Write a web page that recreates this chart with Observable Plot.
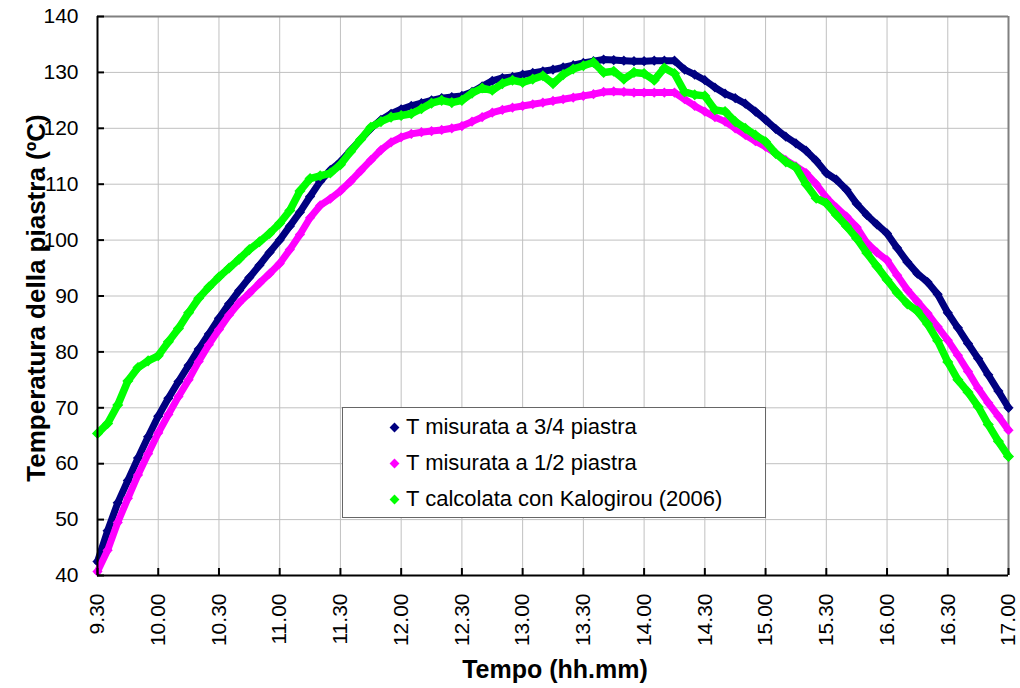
<!DOCTYPE html>
<html>
<head>
<meta charset="utf-8">
<script src="https://cdn.jsdelivr.net/npm/d3@7"></script>
<script src="https://cdn.jsdelivr.net/npm/@observablehq/plot@0.6"></script>
<style>
  body { margin: 0; background: #fff; }
  #wrap { position: relative; width: 1020px; height: 688px; font-family: "Liberation Sans", Arial, sans-serif; color: #000; }
  #wrap svg { position: absolute; left: 0; top: 0; }
  .ytitle { position: absolute; left: 36px; top: 298px; transform: translate(-50%, -50%) rotate(-90deg); font-weight: bold; font-size: 26px; line-height: 1; white-space: nowrap; }
  .xtitle { position: absolute; left: 555px; top: 669px; transform: translate(-50%, -50%); font-weight: bold; font-size: 25px; line-height: 1; white-space: nowrap; }
  .legend { position: absolute; left: 342px; top: 407px; width: 422px; height: 109px; border: 1.5px solid #666; background: #fff; }
  .entry { position: absolute; left: 0; height: 24px; line-height: 24px; font-size: 22px; white-space: nowrap; }
  .entry .mk { position: absolute; left: 48px; top: 9px; width: 7px; height: 7px; transform: rotate(45deg); }
  .entry .lb { position: absolute; left: 63px; top: 0; }
</style>
</head>
<body>
<div id="wrap"></div>
<script>
// ---- data ----
const minutes = [0,5,10,15,20,25,30,35,40,45,50,55,60,65,70,75,80,85,90,95,
  100,105,110,115,120,125,130,135,140,145,150,155,160,165,170,175,180,185,190,195,
  200,205,210,215,220,225,230,235,240,245,250,255,260,265,270,275,280,285,290,295,
  300,305,310,315,320,325,330,335,340,345,350,355,360,365,370,375,380,385,390,395,
  400,405,410,415,420,425,430,435,440,445,450];
const tickMinutes = [0,30,60,90,120,150,180,210,240,270,300,330,360,390,420,450];
const tickLabels = ["9.30","10.00","10.30","11.00","11.30","12.00","12.30","13.00","13.30","14.00","14.30","15.00","15.30","16.00","16.30","17.00"];
const yTicks = [40,50,60,70,80,90,100,110,120,130,140];
const seriesNames = ["T misurata a 3/4 piastra","T misurata a 1/2 piastra","T calcolata con Kalogirou (2006)"];
const seriesColors = ["#000080","#FF00FF","#00FF00"];

const t34 = [42.5,48,53,57,61,64.8,68.5,71.7,74.7,77.6,
  80.5,83.2,86,88.6,91,93.3,95.5,97.8,100,102.5,
  105,107.8,110.5,112.5,114,116,118,120,121.5,122.6,
  123.4,124,124.5,125,125.4,125.6,125.8,126.5,127.5,128.5,
  129,129.2,129.6,129.9,130.2,130.5,130.9,131.3,131.7,132,
  132.3,132.2,132.1,132,132,132.1,132.1,132.1,130.5,129.6,
  128.6,127.3,126.2,125.4,124.4,123,121.5,119.9,118.5,117.3,
  116,114.2,112,110.8,109,106.5,104.5,102.8,101.2,98.6,
  96.1,94,92.5,90.3,87,84.3,81.5,78.8,75.9,73,
  70];
const t12 = [40.7,44.5,49.5,53.8,58,61.8,65.5,68.8,72,75,
  78.3,81.3,84,86.6,88.8,90.5,92.3,94,95.8,98.3,
  101,104,106.2,107.4,108.8,110.5,112.4,114.3,116.1,117.5,
  118.4,119,119.3,119.5,119.7,120,120.4,121.2,122,122.8,
  123.3,123.7,124,124.3,124.6,124.9,125.2,125.5,125.8,126.1,
  126.5,126.6,126.5,126.4,126.4,126.4,126.4,126.4,125.2,124,
  123,122,121.2,120,118.8,117.7,116.7,115.5,114.3,113.2,
  112,110,107.6,105.8,104.2,102.3,99.5,97.8,96.4,93.7,
  91.1,89,86.9,84.5,82.1,79.4,76.5,73.5,70.9,68.5,
  66];
const tKal = [65.4,67.2,70.5,74.8,77.2,78.4,79.3,81.8,84.2,87,
  89.6,91.6,93.4,95,96.6,98.3,99.7,101.2,103,105.3,
  108.8,111,111.5,112,113.5,115.8,118,120.2,121.2,122,
  122.3,122.6,123.5,124.5,125,124.6,125,126.3,127.2,126.8,
  128,128.6,128.2,128.8,129.4,128,129.6,130.6,131.2,131.8,
  130,130.2,128.8,130,129.8,128.6,130.8,129.8,126.5,126,
  125.8,123.3,123,121.2,120,118.8,117.6,115.5,114,113,
  110,107.5,106.6,104.5,102.5,100.3,97.7,95.3,92.9,90.6,
  88.6,87.3,85,82,78.2,75,72.8,70.2,67,64,
  61.3];

// ---- build ----
const seriesValues = [t34, t12, tKal];
const rows = seriesValues.map((vals, k) => minutes.map((m, i) => ({m, v: vals[i], s: seriesNames[k]})));
const dotR = [4.6, 4.6, 5.0];
const lineW = [7, 7, 7.5];

const seriesMarks = rows.flatMap((data, k) => [
  Plot.line(data, {x: "m", y: "v", stroke: seriesColors[k], strokeWidth: lineW[k]}),
  Plot.dot(data, {x: "m", y: "v", symbol: "diamond2", r: dotR[k], fill: seriesColors[k], stroke: "none"})
]);

const chart = Plot.plot({
  width: 1020,
  height: 688,
  marginLeft: 97,
  marginRight: 12,
  marginTop: 16,
  marginBottom: 113,
  style: {fontFamily: "'Liberation Sans', Arial, sans-serif", fontSize: "21px", color: "#000", background: "transparent"},
  x: {domain: [0, 450], label: null},
  y: {domain: [40, 140], label: null},
  marks: [
    Plot.gridY(yTicks, {stroke: "#c0c0c0", strokeOpacity: 1, strokeWidth: 1}),
    Plot.gridX(tickMinutes, {stroke: "#c0c0c0", strokeOpacity: 1, strokeWidth: 1}),
    Plot.ruleY([140], {stroke: "#808080", strokeWidth: 2}),
    Plot.ruleX([450], {stroke: "#808080", strokeWidth: 2}),
    ...seriesMarks,
    Plot.ruleX([0], {stroke: "#000", strokeWidth: 2}),
    Plot.ruleY([40], {stroke: "#000", strokeWidth: 2}),
    Plot.axisY(yTicks, {tickSize: -7, tickPadding: 26, fontSize: 21, label: null, strokeWidth: 2}),
    Plot.axisX(tickMinutes, {tickSize: -7, tickPadding: 25, tickRotate: -90, fontSize: 21, label: null, strokeWidth: 2,
      tickFormat: d => tickLabels[tickMinutes.indexOf(d)]})
  ]
});

const wrap = document.getElementById("wrap");
wrap.appendChild(chart);

const yt = document.createElement("div");
yt.className = "ytitle";
yt.textContent = "Temperatura della piastra (ºC)";
wrap.appendChild(yt);

const xt = document.createElement("div");
xt.className = "xtitle";
xt.textContent = "Tempo (hh.mm)";
wrap.appendChild(xt);

const lg = document.createElement("div");
lg.className = "legend";
const entryTops = [7, 43, 79];
seriesNames.forEach((name, k) => {
  const e = document.createElement("div");
  e.className = "entry";
  e.style.top = entryTops[k] + "px";
  const mk = document.createElement("span");
  mk.className = "mk";
  mk.style.background = seriesColors[k];
  const lb = document.createElement("span");
  lb.className = "lb";
  lb.textContent = name;
  e.appendChild(mk);
  e.appendChild(lb);
  lg.appendChild(e);
});
wrap.appendChild(lg);
</script>
</body>
</html>
